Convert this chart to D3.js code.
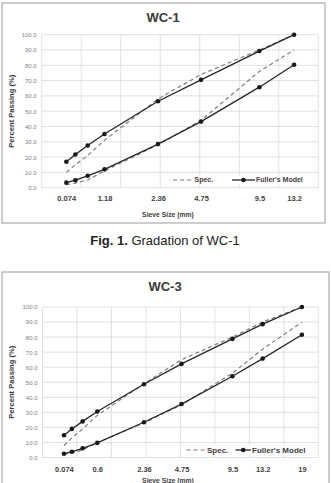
<!DOCTYPE html>
<html>
<head>
<meta charset="utf-8">
<script src="https://cdn.jsdelivr.net/npm/d3@7"></script>
<style>
  body { margin: 0; background: #fff; }
  svg { display: block; }
</style>
</head>
<body>
<div id="fig"></div>
<script>
// Sieve sizes (mm) and percent passing
const sieves1 = [0.075, 0.15, 0.3, 0.6, 2.36, 4.75, 9.5, 13.2];
const fuller1Upper = [17, 21.7, 27.6, 35.1, 56.5, 70.5, 89.3, 100];
const fuller1Lower = [3.3, 4.9, 7.8, 12.0, 28.5, 43.2, 65.7, 80.4];
const spec1Upper = [10, 15, 21, 31, 58, 74, 90, 100];
const spec1Lower = [2, 3, 5, 11, 28, 44, 76, 90];
const ticks1Pos = [0.074, 0.6, 2.36, 4.75, 9.5, 13.2];
const ticks1Label = ["0.074", "1.18", "2.36", "4.75", "9.5", "13.2"];

const sieves3 = [0.075, 0.15, 0.3, 0.6, 2.36, 4.75, 9.5, 13.2, 19];
const fuller3Upper = [14.8, 19, 24, 30.6, 48.7, 62.2, 78.8, 88.6, 100];
const fuller3Lower = [2.5, 3.8, 6.1, 9.7, 23.4, 35.5, 54, 65.7, 81.6];
const spec3Upper = [8, 13, 19, 28, 49, 65, 80, 90, 100];
const spec3Lower = [2, 3, 5, 10, 23, 35, 56, 72, 90];
const ticks3Pos = [0.074, 0.6, 2.36, 4.75, 9.5, 13.2, 19];
const ticks3Label = ["0.074", "0.6", "2.36", "4.75", "9.5", "13.2", "19"];

const yTicks = d3.range(0, 101, 10);

const svg = d3.select("#fig").append("svg")
    .attr("width", 331)
    .attr("height", 483);

const narrow = "'Liberation Sans Narrow', 'Liberation Sans', Arial, sans-serif";
const sans = "'Liberation Sans', Arial, sans-serif";

function drawChart(cfg) {
    const g = svg.append("g");

    // outer frame
    g.append("rect")
        .attr("x", cfg.box[0]).attr("y", cfg.box[1])
        .attr("width", cfg.box[2]).attr("height", cfg.box[3])
        .attr("fill", "#fff")
        .attr("stroke", "#b3b3b3")
        .attr("stroke-width", 1.3);

    // x is on a 0.45 power scale, grid every 0.5 of d^0.45
    const p = 0.45;
    const x = d3.scalePow().exponent(p)
        .domain([0, Math.pow(cfg.xMax, 1 / p)])
        .range([cfg.left, cfg.right]);
    const y = d3.scaleLinear().domain([0, 100]).range([cfg.bottom, cfg.top]);

    const gridX = d3.range(0, cfg.xMax + 0.001, 0.5).map(v => Math.pow(v, 1 / p));

    g.append("g").selectAll("line").data(yTicks).join("line")
        .attr("x1", cfg.left).attr("x2", cfg.right)
        .attr("y1", d => y(d)).attr("y2", d => y(d))
        .attr("stroke", "#d9d9d9").attr("stroke-width", 0.8);
    g.append("g").selectAll("line").data(gridX).join("line")
        .attr("x1", d => x(d)).attr("x2", d => x(d))
        .attr("y1", cfg.top).attr("y2", cfg.bottom)
        .attr("stroke", "#d9d9d9").attr("stroke-width", 0.8);

    // y axis labels
    const yAxis = d3.axisLeft(y).tickValues(yTicks).tickSize(0).tickPadding(5)
        .tickFormat(d3.format(".1f"));
    const ya = g.append("g").attr("transform", `translate(${cfg.left},0)`).call(yAxis);
    ya.select(".domain").remove();
    ya.selectAll("text")
        .attr("font-family", sans).attr("font-size", 6)
        .attr("fill", "#808080");

    // x axis labels
    const xAxis = d3.axisBottom(x).tickValues(cfg.tickPos).tickSize(0).tickPadding(cfg.xPad)
        .tickFormat((d, i) => cfg.tickLabel[i]);
    const xa = g.append("g").attr("transform", `translate(0,${cfg.bottom})`).call(xAxis);
    xa.select(".domain").remove();
    xa.selectAll("text")
        .attr("font-family", sans).attr("font-size", 7.5)
        .attr("font-weight", "bold").attr("fill", "#404040");

    // title and axis titles
    g.append("text")
        .attr("x", cfg.titleX).attr("y", cfg.titleY)
        .attr("text-anchor", "middle")
        .attr("font-family", sans).attr("font-size", 13).attr("font-weight", "bold")
        .attr("fill", "#3a3a3a")
        .text(cfg.title);
    g.append("text")
        .attr("transform", `translate(14,${(cfg.top + cfg.bottom) / 2}) rotate(-90)`)
        .attr("text-anchor", "middle")
        .attr("font-family", sans).attr("font-size", 7.6).attr("font-weight", "bold")
        .attr("fill", "#3a3a3a")
        .text("Percent  Passing (%)");
    g.append("text")
        .attr("x", 168).attr("y", cfg.xTitleY)
        .attr("text-anchor", "middle")
        .attr("font-family", narrow).attr("font-size", 6.8).attr("font-weight", "bold")
        .attr("fill", "#404040")
        .text("Sieve Size (mm)");

    const line = d3.line().x(d => x(d[0])).y(d => y(d[1]));

    // specification limits
    [cfg.specUpper, cfg.specLower].forEach(arr => {
        g.append("path")
            .datum(cfg.sieves.map((s, i) => [s, arr[i]]))
            .attr("d", line)
            .attr("fill", "none")
            .attr("stroke", "#7f7f7f").attr("stroke-width", 1.2)
            .attr("stroke-dasharray", "4,3");
    });

    // Fuller's model curves
    [cfg.fullerUpper, cfg.fullerLower].forEach(arr => {
        const pts = cfg.sieves.map((s, i) => [s, arr[i]]);
        g.append("path")
            .datum(pts)
            .attr("d", line)
            .attr("fill", "none")
            .attr("stroke", "#262626").attr("stroke-width", 1.3);
        g.append("g").selectAll("circle").data(pts).join("circle")
            .attr("cx", d => x(d[0])).attr("cy", d => y(d[1]))
            .attr("r", 2.3).attr("fill", "#1a1a1a");
    });

    // legend
    const L = cfg.legend;
    const lg = g.append("g").attr("transform", `translate(0,${L.y})`);
    lg.append("rect")
        .attr("x", L.x0 - 2).attr("y", -4.5)
        .attr("width", L.x1 - L.x0 + 4).attr("height", 9)
        .attr("fill", "#fff");
    lg.append("line")
        .attr("x1", L.x0).attr("x2", L.x0 + L.len)
        .attr("stroke", "#7f7f7f").attr("stroke-width", 1.2)
        .attr("stroke-dasharray", "4,3");
    lg.append("text")
        .attr("x", L.x0 + L.len + 1.5).attr("y", L.fs * 0.35)
        .attr("font-family", narrow).attr("font-size", L.fs).attr("font-weight", "bold")
        .attr("fill", "#404040")
        .text("Spec.");
    lg.append("line")
        .attr("x1", L.x2).attr("x2", L.x2 + L.len2)
        .attr("stroke", "#262626").attr("stroke-width", 1.3);
    lg.append("circle")
        .attr("cx", L.x2 + L.len2 / 2).attr("r", 2.3).attr("fill", "#1a1a1a");
    lg.append("text")
        .attr("x", L.x2 + L.len2 + 1).attr("y", L.fs * 0.35)
        .attr("font-family", narrow).attr("font-size", L.fs).attr("font-weight", "bold")
        .attr("fill", "#404040")
        .text("Fuller's Model");
}

drawChart({
    box: [2, 3, 323, 220],
    title: "WC-1", titleX: 163, titleY: 21.5,
    left: 41.7, right: 318.3, top: 34.7, bottom: 187.7, xMax: 3.5,
    xPad: 8, xTitleY: 217,
    sieves: sieves1,
    fullerUpper: fuller1Upper, fullerLower: fuller1Lower,
    specUpper: spec1Upper, specLower: spec1Lower,
    tickPos: ticks1Pos, tickLabel: ticks1Label,
    legend: { y: 180, x0: 173, len: 20, x2: 232, len2: 23, x1: 298, fs: 7 }
});

drawChart({
    box: [2, 272, 327, 225],
    title: "WC-3", titleX: 165, titleY: 291,
    left: 42.5, right: 318.3, top: 307, bottom: 457.5, xMax: 4,
    xPad: 9, xTitleY: 483,
    sieves: sieves3,
    fullerUpper: fuller3Upper, fullerLower: fuller3Lower,
    specUpper: spec3Upper, specLower: spec3Lower,
    tickPos: ticks3Pos, tickLabel: ticks3Label,
    legend: { y: 450, x0: 186.5, len: 19, x2: 235.5, len2: 15.5, x1: 307, fs: 8 }
});

// caption between the two charts
const cap = svg.append("text")
    .attr("x", 165).attr("y", 245)
    .attr("text-anchor", "middle")
    .attr("font-family", narrow).attr("font-size", 13)
    .attr("fill", "#222");
cap.append("tspan").attr("font-weight", "bold").text("Fig. 1.");
cap.append("tspan").text(" Gradation of WC-1");
</script>
</body>
</html>
